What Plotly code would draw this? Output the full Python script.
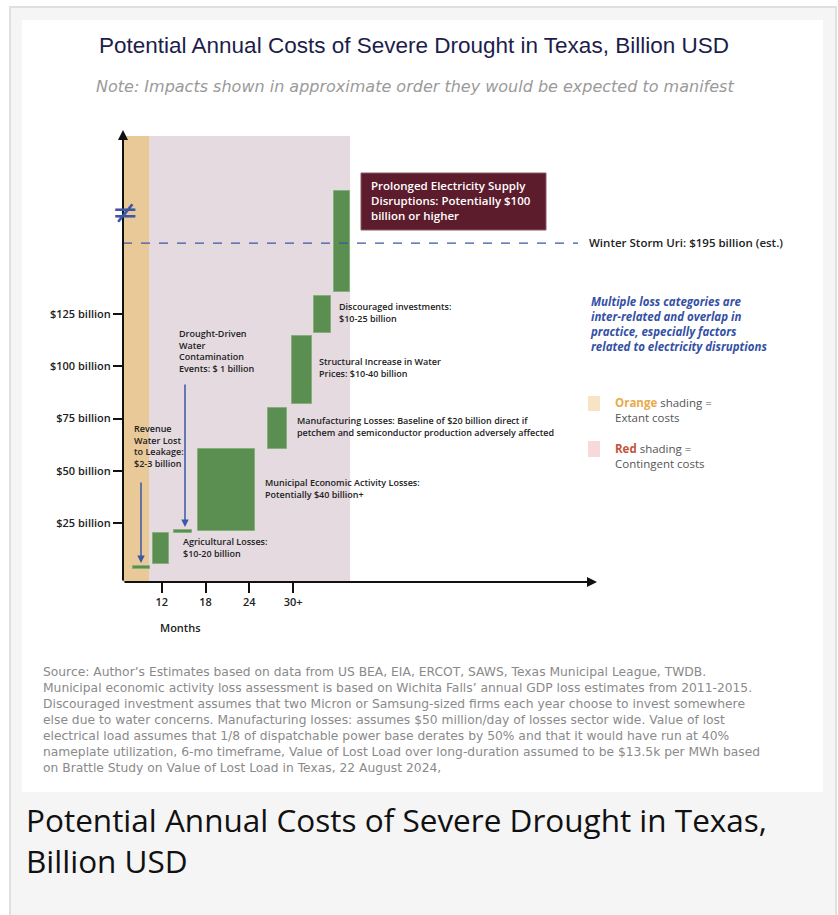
import plotly.graph_objects as go

# ---------------- data ----------------
categories = [
    "Revenue Water Lost to Leakage",
    "Agricultural Losses",
    "Drought-Driven Water Contamination Events",
    "Municipal Economic Activity Losses",
    "Manufacturing Losses",
    "Structural Increase in Water Prices",
    "Discouraged investments",
    "Prolonged Electricity Supply Disruptions",
]
# month span of each block (x axis, months)
month_start = [8.07, 10.81, 13.69, 16.97, 26.56, 29.85, 32.86, 35.60]
month_end = [10.40, 13.00, 16.15, 24.78, 29.16, 32.59, 35.19, 37.80]
# cumulative cost span of each block (axis scale, billion USD; axis broken above ~140)
cost_low = [3.0, 5.4, 20.3, 21.2, 60.3, 82.0, 116.0, 135.5]
cost_high = [4.5, 20.2, 21.5, 60.4, 80.2, 114.5, 133.6, 184.0]

y_tick_vals = [25, 50, 75, 100, 125]
y_tick_text = ["$25 billion", "$50 billion", "$75 billion", "$100 billion", "$125 billion"]
x_tick_vals = [12, 18, 24, 30]
x_tick_text = ["12", "18", "24", "30+"]

extant_period = [6.7, 10.26]       # orange shading, months
contingent_period = [10.26, 37.8]  # red shading, months
uri_level = 159.0                  # Winter Storm Uri ($195 billion, on broken axis)

X_RANGE = [6.7, 71.6]
Y_RANGE = [-3.2, 213.1]

# ---------------- layout helpers (pixel -> paper) ----------------
L, R, T, B = 123, 597, 130, 582
def px(x):
    return (x - L) / (R - L)
def py(y):
    return (B - y) / (B - T)

FONT = "Open Sans"
GREEN = "#5b8f51"
BLUE = "#3b57a6"

fig = go.Figure()

centers = [(a + b) / 2 for a, b in zip(month_start, month_end)]
widths = [b - a for a, b in zip(month_start, month_end)]
heights = [h - l for l, h in zip(cost_low, cost_high)]

fig.add_trace(go.Bar(
    x=centers, width=widths, base=cost_low, y=heights,
    marker=dict(color=GREEN, line=dict(color="#86b07b", width=1)),
    hovertext=categories, hoverinfo="text", showlegend=False,
))

shapes = []
# page frame
shapes.append(dict(type="rect", xref="paper", yref="paper", layer="below",
                   x0=px(10), x1=px(836), y0=py(7), y1=py(930),
                   fillcolor="#f5f5f5", line=dict(color="#e0e0e0", width=2)))
shapes.append(dict(type="rect", xref="paper", yref="paper", layer="below",
                   x0=px(22), x1=px(823), y0=py(20), y1=py(792),
                   fillcolor="white", line=dict(width=0)))
# shading bands
shapes.append(dict(type="rect", xref="x", yref="y", layer="below",
                   x0=extant_period[0], x1=extant_period[1], y0=Y_RANGE[0], y1=210.2,
                   fillcolor="#e9c998", line=dict(width=0)))
shapes.append(dict(type="rect", xref="x", yref="y", layer="below",
                   x0=contingent_period[0], x1=contingent_period[1], y0=Y_RANGE[0], y1=210.2,
                   fillcolor="#e4dadf", line=dict(width=0)))
# Winter Storm Uri line
shapes.append(dict(type="line", xref="x", yref="y", layer="above",
                   x0=X_RANGE[0], x1=69.0, y0=uri_level, y1=uri_level,
                   line=dict(color=BLUE, width=1.2, dash="dash")))
# maroon box
shapes.append(dict(type="rect", xref="paper", yref="paper",
                   x0=px(361), x1=px(546), y0=py(230), y1=py(173),
                   fillcolor="#5c1c2c", line=dict(color="#8a5a66", width=1)))
# legend squares
shapes.append(dict(type="rect", xref="paper", yref="paper",
                   x0=px(588), x1=px(600), y0=py(411), y1=py(396),
                   fillcolor="#f6e4c4", line=dict(width=0)))
shapes.append(dict(type="rect", xref="paper", yref="paper",
                   x0=px(588), x1=px(600), y0=py(457), y1=py(441),
                   fillcolor="#f8d9db", line=dict(width=0)))

ann = []
def text(x, y, s, size=9, color="#222", family=FONT, xanchor="left", yanchor="middle",
         weight=None, style=None, align="left"):
    f = dict(size=size, color=color, family=family)
    if weight:
        f["weight"] = weight
    if style:
        f["style"] = style
    ann.append(dict(xref="paper", yref="paper", x=px(x), y=py(y), text=s,
                    showarrow=False, xanchor=xanchor, yanchor=yanchor,
                    align=align, font=f))

# titles
text(414, 45, "Potential Annual Costs of Severe Drought in Texas, Billion USD",
     size=22.5, color="#1d1d4b", family="Liberation Sans", xanchor="center")
text(415, 87, "Note: Impacts shown in approximate order they would be expected to manifest",
     size=16, color="#9a9a9a", family="DejaVu Sans", xanchor="center", style="italic")

# axis arrows
ann.append(dict(xref="paper", yref="paper", x=0, y=1, ax=0, ay=B - T, axref="pixel", ayref="pixel",
                text="", showarrow=True, arrowhead=2, arrowsize=1, arrowwidth=2, arrowcolor="#111"))
ann.append(dict(xref="paper", yref="paper", x=1, y=0, ax=-(R - L), ay=0, axref="pixel", ayref="pixel",
                text="", showarrow=True, arrowhead=2, arrowsize=1, arrowwidth=2, arrowcolor="#111"))
# blue pointer arrows
ann.append(dict(xref="paper", yref="paper", x=px(141), y=py(563), ax=0, ay=-82,
                text="", showarrow=True, arrowhead=2, arrowsize=1, arrowwidth=1.5, arrowcolor=BLUE))
ann.append(dict(xref="paper", yref="paper", x=px(185), y=py(527), ax=0, ay=-144,
                text="", showarrow=True, arrowhead=2, arrowsize=1, arrowwidth=1.5, arrowcolor=BLUE))
# axis break symbol
text(125, 212, "≠", size=32, color=BLUE, family="DejaVu Sans", xanchor="center")

# x axis title
text(180, 627, "Months", size=11, color="#222", xanchor="center", weight=600)

# block labels
text(337, 312, "Discouraged investments:<br>$10-25 billion", weight=600)
text(317, 367, "Structural Increase in Water<br>Prices: $10-40 billion", weight=600)
text(295, 426, "Manufacturing Losses: Baseline of $20 billion direct if<br>petchem and semiconductor production adversely affected", weight=600)
text(263, 488, "Municipal Economic Activity Losses:<br>Potentially $40 billion+", weight=600)
text(181, 547, "Agricultural Losses:<br>$10-20 billion", weight=600)
text(132, 446, "Revenue<br>Water Lost<br>to Leakage:<br>$2-3 billion", weight=600)
text(177, 351, "Drought-Driven<br>Water<br>Contamination<br>Events: $ 1 billion", weight=600)

# maroon box text
text(369, 200, "Prolonged Electricity Supply<br>Disruptions: Potentially $100<br>billion or higher",
     size=11.5, color="white", weight=600)

# right side
text(587, 242, "Winter Storm Uri: $195 billion (est.)", size=11.5, color="#222", weight=600)
text(588, 324, "Multiple loss categories are<br>inter-related and overlap in<br>practice, especially factors<br>related to electricity disruptions",
     size=11.5, color="#3550a5", weight=700, style="italic")
text(613, 409.5, "<b><span style='color:#e9a94c'>Orange</span></b> shading =<br>Extant costs", size=11.5, color="#555")
text(613, 455.5, "<b><span style='color:#c4533c'>Red</span></b> shading =<br>Contingent costs", size=11.5, color="#555")

# source
source_lines = [
    "Source: Author’s Estimates based on data from US BEA, EIA, ERCOT, SAWS, Texas Municipal League, TWDB.",
    "Municipal economic activity loss assessment is based on Wichita Falls’ annual GDP loss estimates from 2011-2015.",
    "Discouraged investment assumes that two Micron or Samsung-sized firms each year choose to invest somewhere",
    "else due to water concerns. Manufacturing losses: assumes $50 million/day of losses sector wide. Value of lost",
    "electrical load assumes that 1/8 of dispatchable power base derates by 50% and that it would have run at 40%",
    "nameplate utilization, 6-mo timeframe, Value of Lost Load over long-duration assumed to be $13.5k per MWh based",
    "on Brattle Study on Value of Lost Load in Texas, 22 August 2024,",
]
text(41, 720, "<br>".join(source_lines), size=12.3, color="#8a8a8a", family="DejaVu Sans")

# caption
text(24, 840, "Potential Annual Costs of Severe Drought in Texas,<br>Billion USD", size=31.5, color="#111")

fig.update_layout(
    width=838, height=915,
    margin=dict(l=L, r=838 - R, t=T, b=915 - B, pad=0),
    paper_bgcolor="white", plot_bgcolor="rgba(0,0,0,0)",
    shapes=shapes, annotations=ann,
    showlegend=False, bargap=0,
    font=dict(family=FONT, color="#222"),
    xaxis=dict(range=X_RANGE, tickvals=x_tick_vals, ticktext=x_tick_text,
               ticks="outside", ticklen=10, tickwidth=1.5, tickcolor="#111",
               showgrid=False, zeroline=False, showline=False,
               tickfont=dict(size=11, color="#222", family=FONT, weight=600)),
    yaxis=dict(range=Y_RANGE, tickvals=y_tick_vals, ticktext=y_tick_text,
               ticks="outside", ticklen=9, tickwidth=1.5, tickcolor="#111",
               showgrid=False, zeroline=False, showline=False,
               tickfont=dict(size=11, color="#222", family=FONT, weight=600)),
)

fig.write_html("out.html")
